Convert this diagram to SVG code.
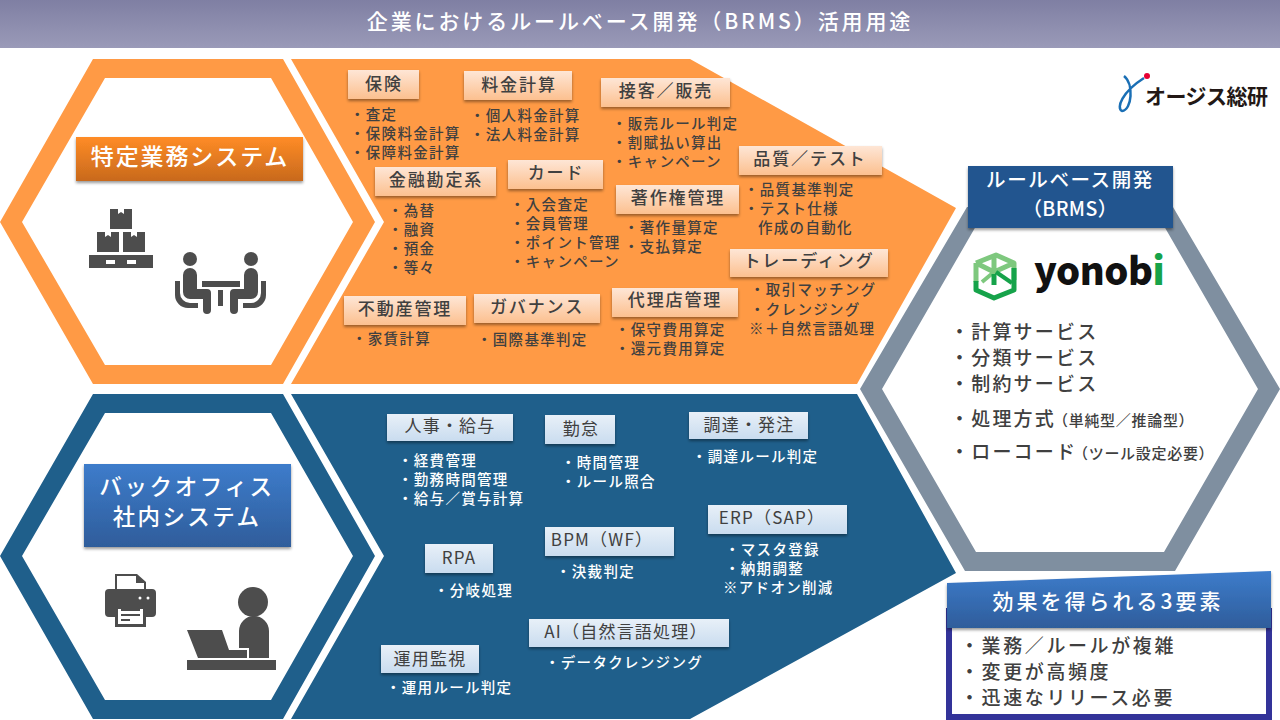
<svg xmlns="http://www.w3.org/2000/svg" width="1280" height="720" viewBox="0 0 1280 720">
<style>
text{font-family:"Noto Sans CJK JP","Noto Sans",sans-serif}
.h{font-size:17px;letter-spacing:1.9px;fill:#404040;font-weight:500;text-anchor:middle;transform:translateY(1px)}
.hb{font-size:17px;letter-spacing:1.2px;fill:#404040;font-weight:400;text-anchor:middle;transform:translateY(.5px)}
.i{font-size:14.5px;letter-spacing:1.3px;fill:#404040;font-weight:500;transform:translateY(.8px)}
.ib{font-size:14.5px;letter-spacing:1.3px;fill:#fff;font-weight:500;transform:translateY(.8px)}
.sub{fill:url(#subg);filter:url(#sh)}
.subb{fill:url(#subb);filter:url(#sh)}
.w{fill:#fff;text-anchor:middle;font-weight:500}
.l{font-size:19px;letter-spacing:2.2px;fill:#404040;font-weight:500;transform:translateY(1px)}
.s{font-size:15px;letter-spacing:.7px;fill:#404040;font-weight:500;transform:translateY(1px)}
.e{font-size:19px;letter-spacing:2.6px;fill:#404040;font-weight:500}
.ic{fill:#4d4d4d}
</style>
<defs>
<linearGradient id="tg" x1="0" y1="0" x2="0" y2="1"><stop offset="0" stop-color="#7f7fa3"/><stop offset="1" stop-color="#9a9ab8"/></linearGradient>
<linearGradient id="subg" x1="0" y1="0" x2="0" y2="1"><stop offset="0" stop-color="#fee6d6"/><stop offset="1" stop-color="#fcc08f"/></linearGradient>
<linearGradient id="subb" x1="0" y1="0" x2="0" y2="1"><stop offset="0" stop-color="#e8f0f8"/><stop offset="1" stop-color="#c9dcef"/></linearGradient>
<linearGradient id="og" x1="0" y1="0" x2="0" y2="1"><stop offset="0" stop-color="#ff8c26"/><stop offset="1" stop-color="#c8691d"/></linearGradient>
<linearGradient id="bg" x1="0" y1="0" x2="0" y2="1"><stop offset="0" stop-color="#3d7ccb"/><stop offset="1" stop-color="#2f5d9b"/></linearGradient>
<filter id="sh" x="-10%" y="-20%" width="120%" height="150%"><feDropShadow dx="0" dy="2" stdDeviation="1.5" flood-color="#000" flood-opacity=".4"/></filter>
</defs>
<rect width="1280" height="720" fill="#fff"/>
<g id="title"><rect width="1280" height="48" fill="url(#tg)"/><text class="w" x="640" y="29" font-size="21" letter-spacing="2.9">企業におけるルールベース開発（BRMS）活用用途</text></g>

<g id="hex-orange">
<path fill="#ff9a45" fill-rule="evenodd" d="M0 222 93 59H283L375 222 283 384H93ZM22 222 105 365H271L353 222 271 78H105Z"/>
<rect x="76" y="137" width="227" height="44" fill="url(#og)" filter="url(#sh)"/>
<text class="w" x="190" y="165" font-size="23" letter-spacing="1.9">特定業務システム</text>
<g class="ic">
<rect x="110" y="209" width="22" height="20"/><rect x="97" y="232" width="22" height="20"/><rect x="123" y="232" width="22" height="20"/>
<path d="M89 255H153V268H89ZM106 260V264H115V260ZM127 260V264H136V260Z" fill-rule="evenodd"/>
</g>
<path fill="#fff" d="M118 209h6v5l-3-2-3 2ZM105 232h6v5l-3-2-3 2ZM131 232h6v5l-3-2-3 2Z"/>
<g class="ic">
<circle cx="190" cy="259" r="7"/><circle cx="251" cy="259" r="7"/>
<path d="M183 275a7 7 0 0 1 14 0V289H207a4 4 0 0 1 4 4V310a4 4 0 0 1-8 0V299H190a7 7 0 0 1-7-7Z"/>
<path d="M258 275a7 7 0 0 0-14 0V289H234a4 4 0 0 0-4 4V310a4 4 0 0 0 8 0V299H251a7 7 0 0 0 7-7Z"/>
<rect x="202" y="281" width="38" height="6"/><rect x="218" y="290" width="5" height="16"/>
<path d="M175 281h5v12a10 10 0 0 0 10 10h8v5h-10a13 13 0 0 1-13-13Z"/>
<path d="M266 281h-5v12a10 10 0 0 1-10 10h-8v5h10a13 13 0 0 0 13-13Z"/>
</g>
</g>

<g id="panel-orange">
<path fill="#ff9a45" d="M291 59H690L956 208 857 384H291L384 222Z"/>
<g id="o-hoken"><rect class="sub" x="348" y="70" width="71" height="29"/><text class="h" x="384" y="89">保険</text>
<text class="i" x="350" y="119">・査定</text><text class="i" x="350" y="138">・保険料金計算</text><text class="i" x="350" y="157">・保障料金計算</text></g>
<g id="o-ryokin"><rect class="sub" x="464" y="71" width="108" height="29"/><text class="h" x="519" y="90">料金計算</text>
<text class="i" x="470" y="120">・個人料金計算</text><text class="i" x="470" y="139">・法人料金計算</text></g>
<g id="o-sekkyaku"><rect class="sub" x="601" y="78" width="129" height="29"/><text class="h" x="666" y="96">接客／販売</text>
<text class="i" x="612" y="128">・販売ルール判定</text><text class="i" x="612" y="147">・割賦払い算出</text><text class="i" x="612" y="166">・キャンペーン</text></g>
<g id="o-hinshitsu"><rect class="sub" x="739" y="146" width="143" height="29"/><text class="h" x="810" y="164">品質／テスト</text>
<text class="i" x="744" y="194">・品質基準判定</text><text class="i" x="744" y="213">・テスト仕様</text><text class="i" x="758" y="232">作成の自動化</text></g>
<g id="o-kinyu"><rect class="sub" x="375" y="167" width="121" height="29"/><text class="h" x="436" y="185">金融勘定系</text>
<text class="i" x="388" y="215">・為替</text><text class="i" x="388" y="234">・融資</text><text class="i" x="388" y="253">・預金</text><text class="i" x="388" y="272">・等々</text></g>
<g id="o-card"><rect class="sub" x="508" y="160" width="95" height="29"/><text class="h" x="556" y="178">カード</text>
<text class="i" x="510" y="209">・入会査定</text><text class="i" x="510" y="228">・会員管理</text><text class="i" x="510" y="247">・ポイント管理</text><text class="i" x="510" y="266">・キャンペーン</text></g>
<g id="o-chosaku"><rect class="sub" x="616" y="185" width="123" height="29"/><text class="h" x="678" y="203">著作権管理</text>
<text class="i" x="624" y="232">・著作量算定</text><text class="i" x="624" y="251">・支払算定</text></g>
<g id="o-trading"><rect class="sub" x="730" y="249" width="158" height="28"/><text class="h" x="809" y="266">トレーディング</text>
<text class="i" x="750" y="294">・取引マッチング</text><text class="i" x="750" y="314">・クレンジング</text><text class="i" x="749" y="333">※＋自然言語処理</text></g>
<g id="o-fudosan"><rect class="sub" x="344" y="296" width="122" height="29"/><text class="h" x="405" y="314">不動産管理</text>
<text class="i" x="352" y="343">・家賃計算</text></g>
<g id="o-governance"><rect class="sub" x="474" y="294" width="126" height="29"/><text class="h" x="537" y="312">ガバナンス</text>
<text class="i" x="477" y="344">・国際基準判定</text></g>
<g id="o-dairiten"><rect class="sub" x="612" y="288" width="126" height="29"/><text class="h" x="675" y="305">代理店管理</text>
<text class="i" x="615" y="334">・保守費用算定</text><text class="i" x="615" y="353">・還元費用算定</text></g>
</g>

<g id="hex-blue">
<path fill="#1f5f8b" fill-rule="evenodd" d="M0 556 93 394H283L375 556 283 719H93ZM22 556 105 700H271L353 556 271 413H105Z"/>
<rect x="84" y="464" width="207" height="83" fill="url(#bg)" filter="url(#sh)"/>
<text class="w" x="187" y="495" font-size="22.5" letter-spacing="2.6">バックオフィス</text>
<text class="w" x="187" y="525" font-size="22.5" letter-spacing="2.4">社内システム</text>
<g class="ic">
<path d="M115 574H137L146 582V590H144V583H136V576H117V590H115Z"/>
<path fill-rule="evenodd" d="M109 589H152a4 4 0 0 1 4 4V613a4 4 0 0 1-4 4H146V606H115V617H109a4 4 0 0 1-4-4V593a4 4 0 0 1 4-4Z"/>
<circle cx="140" cy="598" r="1.5" fill="#fff"/><circle cx="148" cy="598" r="1.5" fill="#fff"/>
<path fill-rule="evenodd" d="M115 606H146V627H115ZM118 609V624H143V609Z"/>
<rect x="121" y="609" width="19" height="2"/><rect x="121" y="614" width="19" height="2"/><rect x="121" y="619" width="9" height="2"/>
<circle cx="253" cy="602" r="15"/>
<path d="M239 631a14 14 0 0 1 30 0V658H249V648H239Z"/>
<path d="M187 630H222L229 650H247V658H198Z"/>
<rect x="187" y="660" width="89" height="10"/>
</g>
</g>

<g id="panel-blue">
<path fill="#1f5f8b" d="M291 394H857L956 573 690 719H291L384 556Z"/>
<g id="b-jinji"><rect class="subb" x="387" y="414" width="126" height="27"/><text class="hb" x="450" y="431">人事・給与</text>
<text class="ib" x="398" y="465">・経費管理</text><text class="ib" x="398" y="484">・勤務時間管理</text><text class="ib" x="398" y="503">・給与／賞与計算</text></g>
<g id="b-kintai"><rect class="subb" x="545" y="415" width="70" height="29"/><text class="hb" x="581" y="434">勤怠</text>
<text class="ib" x="561" y="467">・時間管理</text><text class="ib" x="561" y="486">・ルール照合</text></g>
<g id="b-chotatsu"><rect class="subb" x="689" y="412" width="119" height="27"/><text class="hb" x="749" y="430">調達・発注</text>
<text class="ib" x="692" y="461">・調達ルール判定</text></g>
<g id="b-erp"><rect class="subb" x="708" y="505" width="139" height="29"/><text class="hb" x="772" y="523">ERP（SAP）</text>
<text class="ib" x="725" y="554">・マスタ登録</text><text class="ib" x="725" y="573">・納期調整</text><text class="ib" x="723" y="592">※アドオン削減</text></g>
<g id="b-bpm"><rect class="subb" x="545" y="527" width="129" height="29"/><text class="hb" x="602" y="545">BPM（WF）</text>
<text class="ib" x="556" y="576">・決裁判定</text></g>
<g id="b-rpa"><rect class="subb" x="425" y="544" width="68" height="29"/><text class="hb" x="459" y="563">RPA</text>
<text class="ib" x="434" y="595">・分岐処理</text></g>
<g id="b-ai"><rect class="subb" x="529" y="619" width="200" height="28"/><text class="hb" x="626" y="637">AI（自然言語処理）</text>
<text class="ib" x="545" y="667">・データクレンジング</text></g>
<g id="b-kanshi"><rect class="subb" x="381" y="645" width="98" height="28"/><text class="hb" x="430" y="664">運用監視</text>
<text class="ib" x="386" y="692">・運用ルール判定</text></g>
</g>

<g id="hex-brms">
<path fill="#7f8fa0" fill-rule="evenodd" d="M860 389 967 207H1173L1280 389 1175 571H965ZM882 389 976 552H1164L1258 389 1164 226H976Z"/>
<rect x="968" y="166" width="205" height="62" fill="#24548f" filter="url(#sh)"/>
<text class="w" x="1070" y="187" font-size="19.5" letter-spacing="1.6">ルールベース開発</text>
<text class="w" x="1070" y="216" font-size="19.5" letter-spacing=".4">（BRMS）</text>
<g id="yonobi-mark" fill="none" stroke-linejoin="round">
<path stroke="#7ec87e" stroke-width="5" d="M976 263 996 255 1014 263V280M976 263V282M976 263 994 272 1014 263M994 255V272"/>
<path stroke="#7ec87e" stroke-width="4" d="M994 272 982 282"/>
<path stroke="#16a34a" stroke-width="5" d="M1014 268V290L994 298 976 290V281M994 274V285"/>
<path stroke="#16a34a" stroke-width="4" d="M996 272 1012 283"/>
</g>
<text x="1034" y="285" font-family="Inter,sans-serif" font-size="38" font-weight="900" fill="#111" letter-spacing="-.5">yonob<tspan fill="#16a34a">i</tspan></text>
<text class="l" x="950" y="338">・計算サービス</text>
<text class="l" x="950" y="364">・分類サービス</text>
<text class="l" x="950" y="390">・制約サービス</text>
<text class="l" x="950" y="425">・処理方式</text><text class="s" x="1053" y="425">（単純型／推論型）</text>
<text class="l" x="950" y="458">・ローコード</text><text class="s" x="1073" y="458">（ツール設定必要）</text>
</g>

<g id="effects">
<rect x="949" y="611" width="320" height="106" fill="#fff" stroke="#333399" stroke-width="6"/>
<path d="M947 583 1271 571V628H947Z" fill="url(#bg)" filter="url(#sh)"/>
<text class="w" x="1108" y="609" font-size="21" letter-spacing="3">効果を得られる3要素</text>
<text class="e" x="960" y="653">・業務／ルールが複雑</text>
<text class="e" x="960" y="679">・変更が高頻度</text>
<text class="e" x="960" y="705">・迅速なリリース必要</text>
</g>

<g id="logo">
<path fill="none" stroke="#1a6fb5" stroke-width="2.5" d="M1124 76C1134 84 1132 110 1122 111 1116 108 1122 92 1144 78"/>
<circle cx="1147" cy="76" r="3" fill="#e60033"/>
<text x="1145" y="104" font-size="21" font-weight="700" fill="#231815" letter-spacing="-.5">オージス総研</text>
</g>
</svg>
